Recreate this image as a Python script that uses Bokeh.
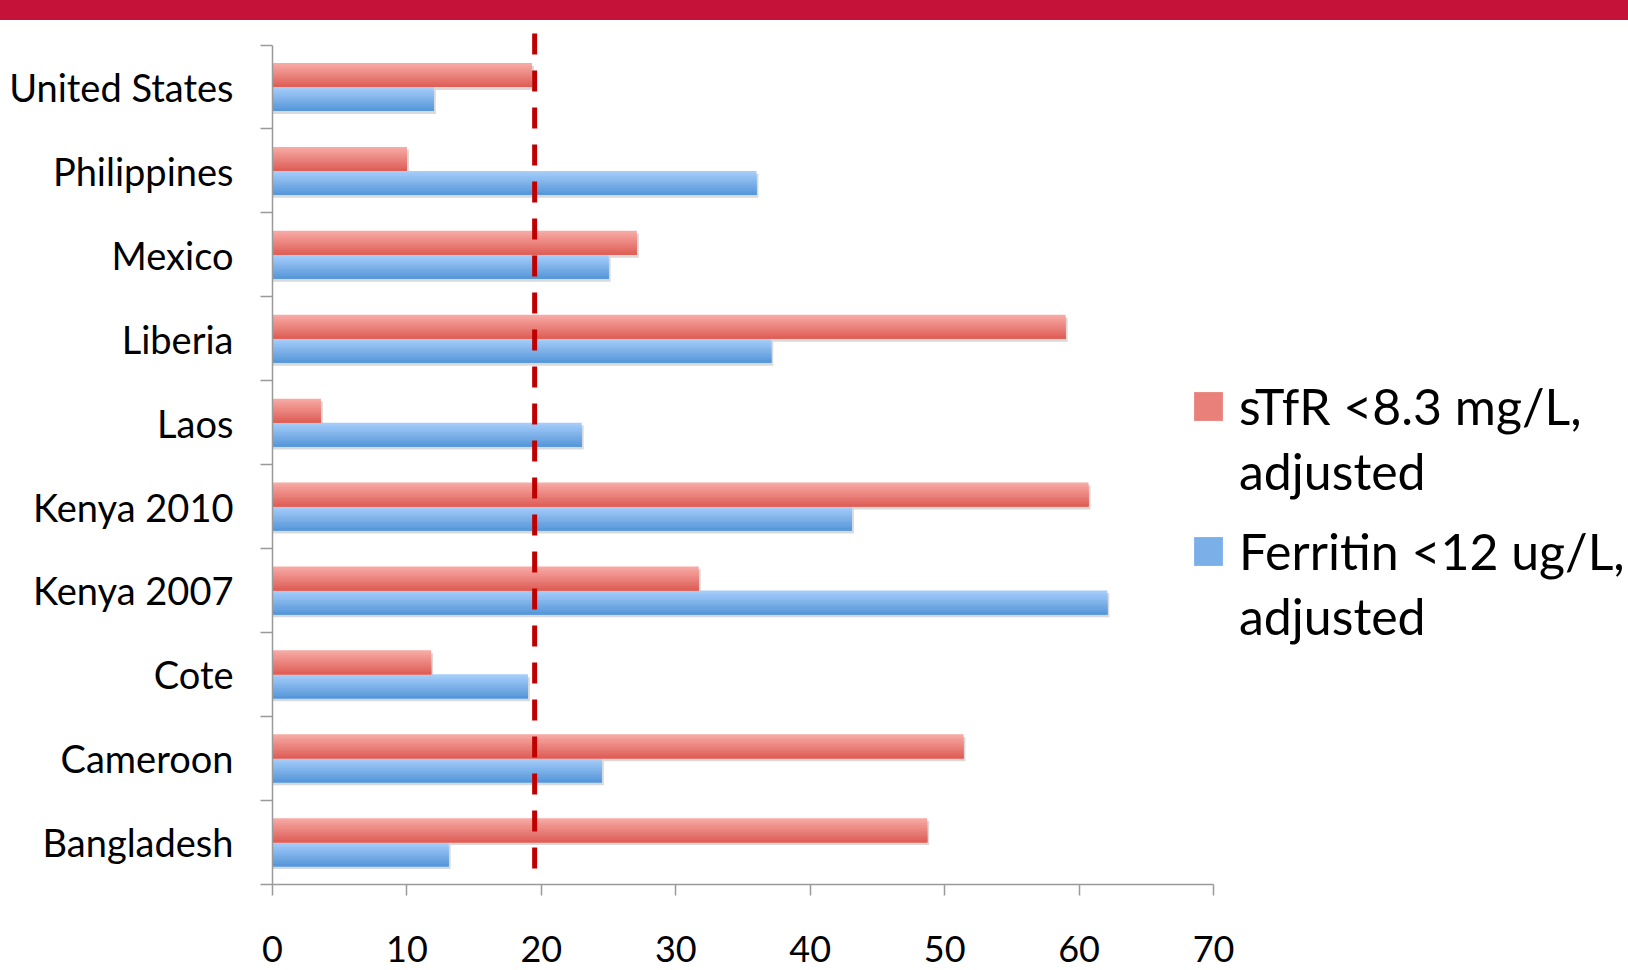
from bokeh.plotting import figure
from bokeh.models import FixedTicker, Legend, LegendItem, Range1d, Div
from bokeh.layouts import column
from bokeh.embed import file_html
from bokeh.resources import INLINE

# ---------------- data ----------------
countries = ["United States", "Philippines", "Mexico", "Liberia", "Laos",
             "Kenya 2010", "Kenya 2007", "Cote", "Cameroon", "Bangladesh"]
stfr = [19.3, 10.0, 27.1, 59.0, 3.6, 60.7, 31.7, 11.8, 51.4, 48.7]
ferritin = [12.0, 36.0, 25.0, 37.1, 23.0, 43.1, 62.1, 19.0, 24.5, 13.1]
x_ticks = [0, 10, 20, 30, 40, 50, 60, 70]
cutoff = 19.5
series_names = ["sTfR <8.3 mg/L,", "Ferritin <12 ug/L,"]
series_suffix = "adjusted"

# ---------------- style ----------------
BANNER = "#C41239"
AXIS = "#9A9A9A"
FONT = "Lato"
RED_TOP, RED_BOT = (247, 168, 163), (222, 96, 89)
BLUE_TOP, BLUE_BOT = (164, 204, 249), (88, 152, 218)
BH = 0.286      # bar thickness in category units
NS = 10         # gradient steps per bar

X0, X1 = -20.234, 100.87  # frame range (value axis 0..70 plus margins)
Y0, Y1 = -1.530, 9.793    # frame range (categories -0.5 .. 9.5 plus margins)


def lerp(c1, c2, t):
    return "#%02x%02x%02x" % tuple(int(round(a + (b - a) * t)) for a, b in zip(c1, c2))


n = len(countries)
ys = [n - 1 - i for i in range(n)]

banner = Div(text="", width=1628, height=20, margin=0,
             styles={"background-color": BANNER, "width": "1628px", "height": "20px"})

p = figure(width=1628, height=950, x_range=Range1d(X0, X1), y_range=Range1d(Y0, Y1),
           toolbar_location=None, output_backend="svg", min_border=0)
p.outline_line_color = None
p.grid.visible = False
p.background_fill_color = "white"

# shadows
p.hbar(y=[y + BH / 2 - 0.035 for y in ys], left=0, right=[v + 0.15 for v in stfr], height=BH,
       fill_color="black", fill_alpha=0.15, line_color=None)
p.hbar(y=[y - BH / 2 - 0.035 for y in ys], left=0, right=[v + 0.15 for v in ferritin], height=BH,
       fill_color="black", fill_alpha=0.15, line_color=None)

# gradient bars: each step covers from the bar's bottom up to its own top edge
red_steps, blue_steps = [], []
for k in range(NS):
    t = k / (NS - 1)
    hk = BH * (NS - k) / NS
    r = p.hbar(y=[y + hk / 2 for y in ys], left=0, right=stfr, height=hk,
               fill_color=lerp(RED_TOP, RED_BOT, t), line_color=None)
    b = p.hbar(y=[y - BH + hk / 2 for y in ys], left=0, right=ferritin, height=hk,
               fill_color=lerp(BLUE_TOP, BLUE_BOT, t), line_color=None)
    red_steps.append(r)
    blue_steps.append(b)

# cutoff line (from top of frame down to the category axis)
p.segment(x0=[cutoff], y0=[Y1], x1=[cutoff], y1=[-0.5], line_color="#C00000",
          line_width=5, line_dash="21 16", line_dash_offset=24)

# axes (drawn at fixed data positions inside the frame)
xa = p.xaxis[0]
xa.fixed_location = -0.5
xa.bounds = (0, 70)
xa.ticker = FixedTicker(ticks=x_ticks)
xa.major_tick_in = 0
xa.major_tick_out = 11
xa.minor_tick_line_color = None
xa.axis_line_color = AXIS
xa.axis_line_width = 1.5
xa.major_tick_line_color = AXIS
xa.major_tick_line_width = 1.5
xa.major_label_text_font = FONT
xa.major_label_text_font_size = "36px"
xa.major_label_text_color = "black"
xa.major_label_standoff = 41

ya = p.yaxis[0]
ya.fixed_location = 0
ya.bounds = (-0.5, 9.5)
ya.ticker = FixedTicker(ticks=ys, minor_ticks=[k - 0.5 for k in range(n + 1)])
ya.major_label_overrides = {y: c for y, c in zip(ys, countries)}
ya.major_tick_line_color = None
ya.major_tick_in = 0
ya.major_tick_out = 12
ya.minor_tick_in = 0
ya.minor_tick_out = 12
ya.minor_tick_line_color = AXIS
ya.minor_tick_line_width = 1.5
ya.axis_line_color = AXIS
ya.axis_line_width = 1.5
ya.major_label_text_font = FONT
ya.major_label_text_font_size = "38px"
ya.major_label_text_color = "black"
ya.major_label_standoff = 27

# legend
hidden = p.hbar(y=ys, right=stfr, left=0, height=BH, fill_alpha=0, line_alpha=0)
mid = NS // 2
for name, rend, loc in [(series_names[0], red_steps[mid], (1190, 469)),
                        (series_names[1], blue_steps[mid], (1190, 324))]:
    lg = Legend(items=[LegendItem(label=name, renderers=[rend], index=0),
                       LegendItem(label=series_suffix, renderers=[hidden], index=0)],
                location=loc, orientation="vertical", padding=0, margin=0,
                spacing=5, label_height=60, glyph_height=36, glyph_width=36,
                label_standoff=13, border_line_color=None, background_fill_alpha=0,
                label_text_font=FONT, label_text_font_size="50px", label_text_color="black")
    p.add_layout(lg)

layout = column(banner, p, spacing=0)
open("out.html", "w").write(file_html(layout, INLINE))
